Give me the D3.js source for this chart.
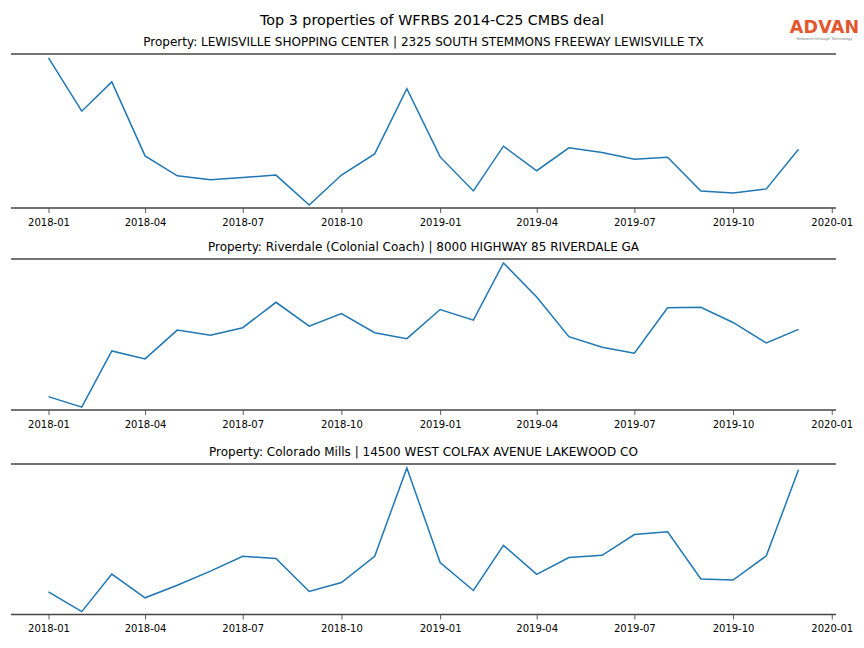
<!DOCTYPE html>
<html>
<head>
<meta charset="utf-8">
<script src="https://cdn.jsdelivr.net/npm/d3@7"></script>
<style>
html,body{margin:0;padding:0;background:#fff;}
text{font-family:"DejaVu Sans",sans-serif;}
</style>
</head>
<body>
<svg id="chart" width="864" height="648"></svg>
<script>
const months = ["2018-01","2018-02","2018-03","2018-04","2018-05","2018-06","2018-07","2018-08","2018-09","2018-10","2018-11","2018-12",
                "2019-01","2019-02","2019-03","2019-04","2019-05","2019-06","2019-07","2019-08","2019-09","2019-10","2019-11","2019-12"];
const lewisville = [3988,2934,3514,2048,1654,1574,1620,1668,1074,1668,2088,3380,2028,1354,2240,1754,2208,2114,1980,2020,1354,1314,1394,2180];
const riverdale  = [630,524,1090,1010,1300,1247,1324,1580,1340,1467,1274,1214,1507,1400,1977,1634,1234,1127,1067,1524,1530,1377,1170,1307];
const colorado   = [2660,2060,3200,2480,2861,3290,3740,3671,2672,2942,3740,6422,3551,2702,4070,3191,3701,3770,4400,4481,3050,3020,3752,6362];
const tickLabels = ["2018-01","2018-04","2018-07","2018-10","2019-01","2019-04","2019-07","2019-10","2020-01"];
const mainTitle = "Top 3 properties of WFRBS 2014-C25 CMBS deal";
const panelTitles = [
  "Property: LEWISVILLE SHOPPING CENTER | 2325 SOUTH STEMMONS FREEWAY LEWISVILLE TX",
  "Property: Riverdale (Colonial Coach) | 8000 HIGHWAY 85 RIVERDALE GA",
  "Property: Colorado Mills | 14500 WEST COLFAX AVENUE LAKEWOOD CO"
];
const seriesList = [lewisville, riverdale, colorado];

const svg = d3.select("#chart");
const parse = d3.timeParse("%Y-%m");
const dates = months.map(parse);
const tickDates = tickLabels.map(parse);

const left = 11, right = 836;
const panels = [{top:54, bottom:208},{top:259, bottom:410},{top:464, bottom:614.5}];

const d0 = dates[0], d1 = dates[dates.length-1];
const span = d1 - d0;
const x = d3.scaleTime()
  .domain([new Date(+d0 - 0.05*span), new Date(+d1 + 0.05*span)])
  .range([left, right]);

svg.append("text").attr("x", 432).attr("y", 25).attr("text-anchor","middle")
  .attr("font-size", 14.3).attr("fill","#000").text(mainTitle);

// logo
const logo = svg.append("g");
logo.append("text").attr("x", 824.5).attr("y", 33).attr("text-anchor","middle")
  .attr("font-family","Liberation Sans, Arial, sans-serif").attr("font-weight","bold")
  .attr("font-size", 17.5).attr("fill","#e4572e").attr("letter-spacing", 0.2).text("ADVAN");
logo.append("text").attr("x", 824.5).attr("y", 39.5).attr("text-anchor","middle")
  .attr("font-size", 3.8).attr("fill","#777").text("Research through Technology");

panels.forEach((p, i) => {
  const vals = seriesList[i];
  const [mn, mx] = d3.extent(vals);
  const r = mx - mn;
  const y = d3.scaleLinear().domain([mn - 0.02*r, mx + 0.027*r]).range([p.bottom, p.top]);
  const g = svg.append("g");

  g.append("text").attr("x", (left+right)/2).attr("y", p.top - 8).attr("text-anchor","middle")
    .attr("font-size", 12).attr("fill","#000").text(panelTitles[i]);

  const line = d3.line().x((d, j) => x(dates[j])).y(d => y(d));
  g.append("path").datum(vals).attr("d", line).attr("fill","none")
    .attr("stroke","#1f77b4").attr("stroke-width",1.5).attr("stroke-linejoin","miter");

  const axis = d3.axisBottom(x).tickValues(tickDates).tickFormat(d3.timeFormat("%Y-%m"))
    .tickSize(5).tickPadding(5.5);
  const ag = g.append("g").attr("transform", `translate(0,${p.bottom})`).call(axis);
  ag.select(".domain").remove();
  ag.selectAll(".tick line").attr("stroke","#333").attr("stroke-width",0.8);
  ag.selectAll(".tick text").attr("font-size",10).attr("fill","#000")
    .attr("font-family","DejaVu Sans, sans-serif");

  [p.top, p.bottom].forEach(yy => {
    g.append("line").attr("x1", left).attr("x2", right).attr("y1", yy).attr("y2", yy)
      .attr("stroke","#444").attr("stroke-width",1.6);
  });
});
</script>
</body>
</html>
